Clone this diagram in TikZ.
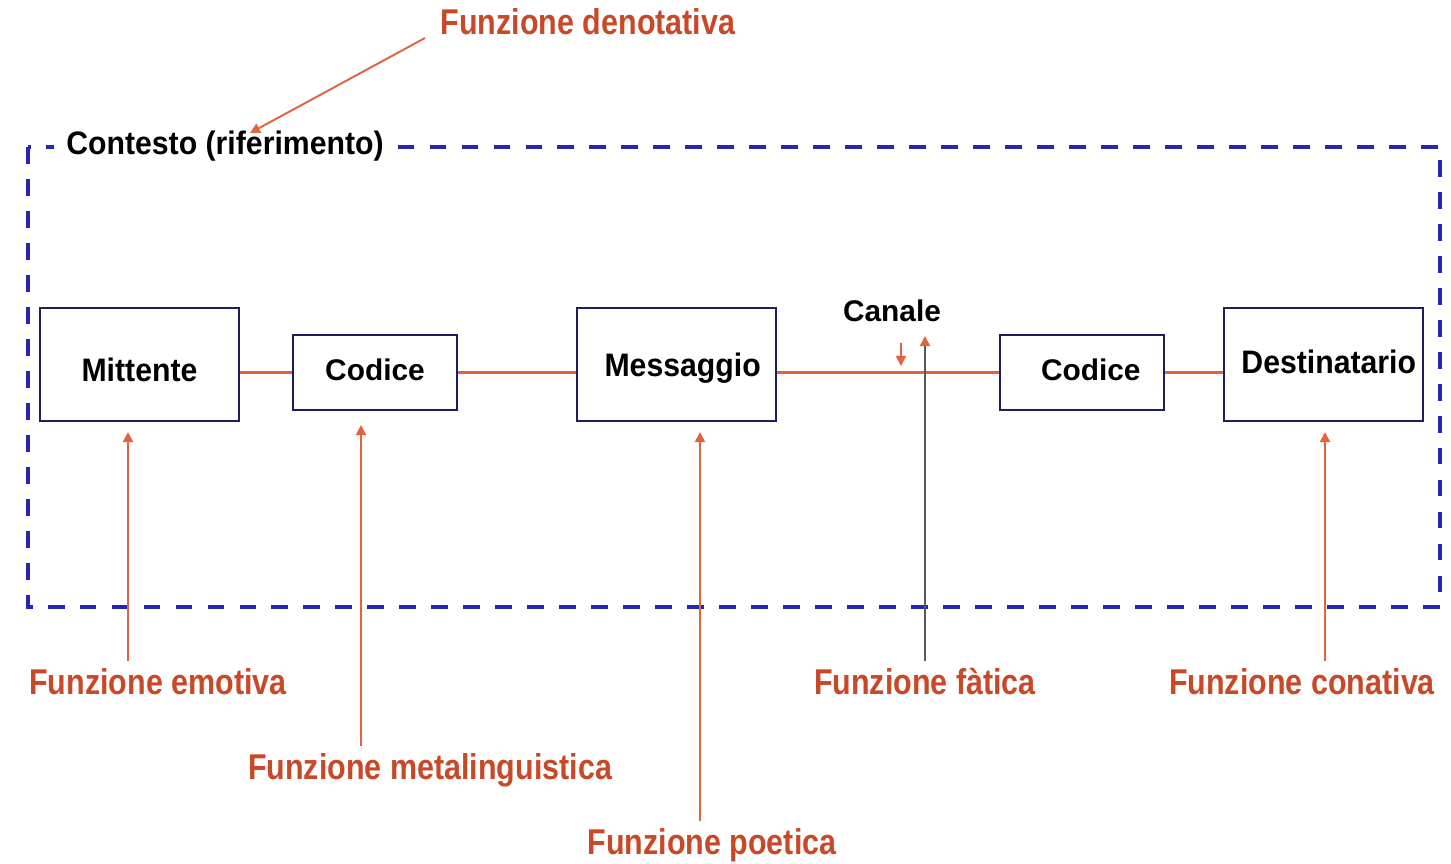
\documentclass[tikz,border=0pt]{standalone}
\usepackage{fontspec}
\setmainfont{Liberation Sans}
\newfontfamily\narrowA[FakeStretch=0.85]{Liberation Sans}
\newfontfamily\narrowB[FakeStretch=0.93]{Liberation Sans}
\usetikzlibrary{arrows.meta}
\definecolor{fnred}{RGB}{200,72,40}
\definecolor{lnred}{RGB}{228,98,62}
\definecolor{ctxblue}{RGB}{38,38,178}
\definecolor{boxnavy}{RGB}{30,30,90}
\definecolor{fatgray}{RGB}{90,90,90}
\tikzset{
  fnlabel/.style={font=\narrowA\bfseries\fontsize{20.4}{24}\selectfont, text=fnred, inner sep=4pt},
  bigbox/.style={draw=boxnavy, line width=1.1pt, fill=white, minimum width=3.98cm, minimum height=2.26cm,
    font=\narrowB\bfseries\fontsize{18.5}{22}\selectfont, inner sep=0pt, text depth=0pt},
  codbox/.style={draw=boxnavy, line width=1.1pt, fill=white, minimum width=3.28cm, minimum height=1.5cm,
    font=\bfseries\fontsize{17}{20}\selectfont, inner sep=0pt, text depth=0pt, text height=9.6pt},
  plain/.style={font=\bfseries\fontsize{17}{20}\selectfont, inner sep=0pt},
  ctx/.style={font=\narrowB\bfseries\fontsize{18.5}{22}\selectfont, fill=white, inner xsep=7pt, inner ysep=2pt},
  link/.style={draw=lnred, line width=1.7pt},
  fnarrow/.style={draw=lnred, line width=1.1pt, -{Triangle[length=5.7pt,width=5.7pt,color=lnred]}},
  fatarrow/.style={draw=fatgray, line width=0.8pt, -{Triangle[length=5.7pt,width=5.7pt,color=lnred]}},
  ctxframe/.style={draw=ctxblue, line width=2.3pt, dash pattern=on 9.6pt off 8.6pt}
}
\begin{document}
\begin{tikzpicture}[x=0.02cm,y=-0.02cm]
\useasboundingbox[fill=white] (0,0) rectangle (1451,863);

% context frame
\draw[ctxframe] (28,147) rectangle (1440,607);
\node[ctx] (ctx) at (225,146) {Contesto (riferimento)};

% boxes
\node[bigbox, text height=19.5pt] (mitt) at (139.5,364.5) {Mittente};
\node[codbox] (cod1) at (375,372.5) {Codice};
\node[bigbox, text height=13.3pt] (mess) at (676.5,364.5) {\hspace*{7pt}Messaggio};
\node[codbox] (cod2) at (1082,372.5) {\hspace*{10pt}Codice};
\node[bigbox, text height=10.5pt] (dest) at (1323.5,364.5) {\hspace*{6pt}Destinatario};

% links
\draw[link] (mitt.east |- cod1) -- (cod1.west);
\draw[link] (cod1.east) -- (mess.west |- cod1);
\draw[link] (mess.east |- cod2) -- (cod2.west);
\draw[link] (cod2.east) -- (dest.west |- cod2);

% canale
\node[plain] (can) at (892,311) {Canale};
\coordinate (cd1) at (901,343);
\coordinate (cd2) at (901,366);
\draw[fnarrow] (cd1) -- (cd2);

% function labels
\node[fnlabel] (ldeno) at (588,22) {Funzione denotativa};
\node[fnlabel] (lemo) at (158,682) {Funzione emotiva};
\node[fnlabel] (lmeta) at (430,770) {Funzione metalinguistica};
\node[fnlabel] (lpoe) at (712,845) {Funzione poetica};
\node[fnlabel] (lfat) at (925,682) {Funzione fàtica};
\node[fnlabel] (lcon) at (1302,682) {Funzione conativa};

% tips
\coordinate (temo) at (128,432);
\coordinate (tmeta) at (361,425);
\coordinate (tpoe) at (700,432);
\coordinate (tfat) at (925,336);
\coordinate (tcon) at (1325,432);
\coordinate (tden) at (250,133);
\coordinate (sden) at (425,38);

\draw[fnarrow] (lemo.north -| temo) -- (temo);
\draw[fnarrow] (lmeta.north -| tmeta) -- (tmeta);
\draw[fnarrow] (lpoe.north -| tpoe) -- (tpoe);
\draw[fatarrow] (lfat.north -| tfat) -- (tfat);
\draw[fnarrow] (lcon.north -| tcon) -- (tcon);
\draw[fnarrow] (sden) -- (tden);
\end{tikzpicture}
\end{document}
